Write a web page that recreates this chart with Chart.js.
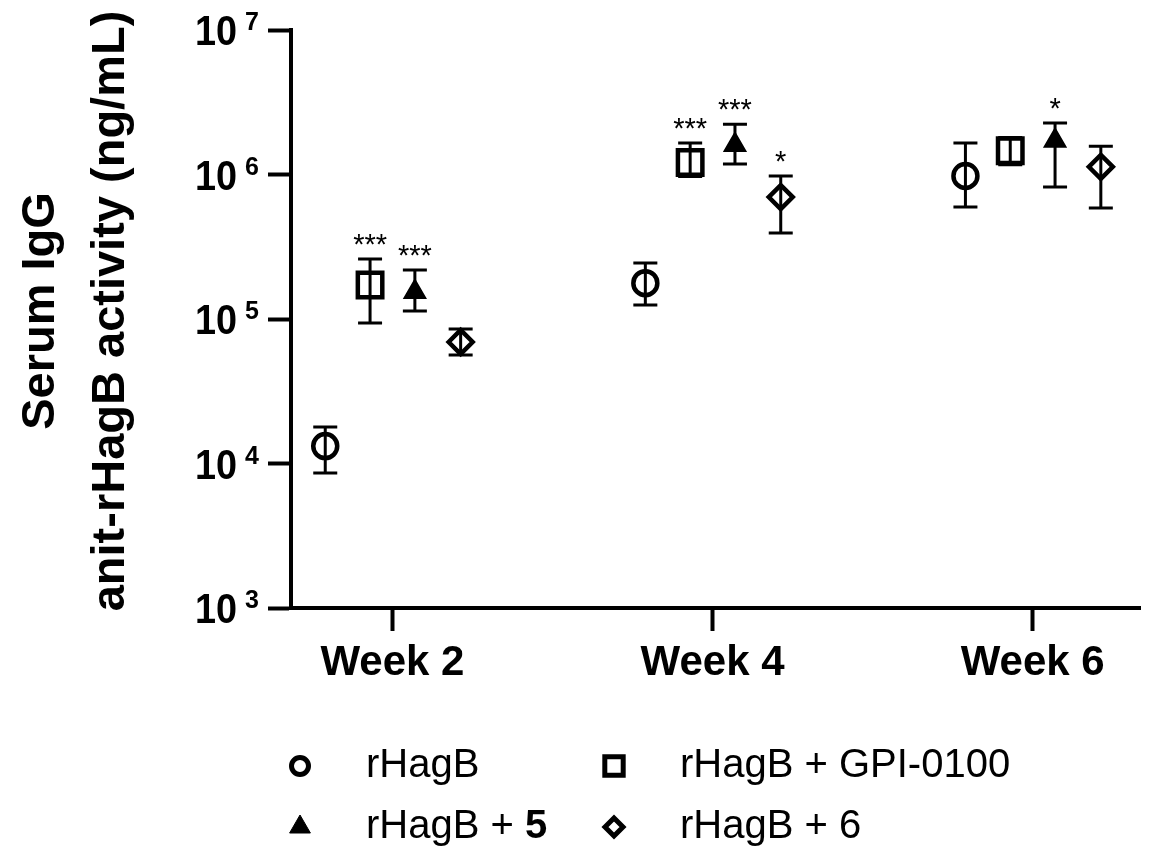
<!DOCTYPE html>
<html><head><meta charset="utf-8">
<script src="https://cdn.jsdelivr.net/npm/chart.js@4/dist/chart.umd.min.js"></script>
<style>html,body{margin:0;padding:0;background:#fff}#wrap{width:1162px;height:850px}</style>
</head><body><div id="wrap"><canvas id="c" width="1162" height="850"></canvas></div>
<script>
// ---- data ----
const categories = ['Week 2', 'Week 4', 'Week 6'];
const seriesLabels = ['rHagB', 'rHagB + GPI-0100', 'rHagB + 5', 'rHagB + 6'];

const meanRHagB  = [13200, 177000, 977000];
const upperRHagB = [17900, 244000, 1650000];
const lowerRHagB = [8600, 125000, 596000];

const meanGPI  = [172000, 1210000, 1460000];
const upperGPI = [260000, 1650000, 1800000];
const lowerGPI = [93800, 970000, 1170000];

const mean5  = [154000, 1600000, 1710000];
const upper5 = [218000, 2230000, 2270000];
const lower5 = [113500, 1180000, 818000];

const mean6  = [69300, 698000, 1130000];
const upper6 = [85300, 977000, 1570000];
const lower6 = [56300, 394000, 586000];

const sigRHagB = ['', '', ''];
const sigGPI   = ['***', '***', ''];
const sig5     = ['***', '***', '*'];
const sig6     = ['', '*', ''];

const yTickValues = [1e3, 1e4, 1e5, 1e6, 1e7];
const yTitleLines = ['Serum IgG', 'anit-rHagB activity (ng/mL)'];

// ---- styles ----
const FONT = '"Liberation Sans", Arial, Helvetica, sans-serif';
const dodge = [-0.21, -0.07, 0.07, 0.213];

function mk(label, mean, up, lo, sig, k, style) {
  return Object.assign({
    label: label,
    data: categories.map((c, i) => ({ x: i + dodge[k], y: mean[i] })),
    errUpper: up, errLower: lo, sig: sig,
    showLine: false,
    pointBorderColor: '#000'
  }, style);
}

const datasets = [
  mk(seriesLabels[0], meanRHagB, upperRHagB, lowerRHagB, sigRHagB, 0,
     { pointStyle: 'circle', pointRadius: 12, pointHoverRadius: 12, pointBorderWidth: 4.5, pointHoverBorderWidth: 4.5, pointBackgroundColor: 'rgba(0,0,0,0)', legendRadius: 8.5, legendBorder: 5 }),
  mk(seriesLabels[1], meanGPI, upperGPI, lowerGPI, sigGPI, 1,
     { pointStyle: 'rect', pointRadius: 17.3, pointHoverRadius: 17.3, pointBorderWidth: 4.5, pointHoverBorderWidth: 4.5, pointBackgroundColor: 'rgba(0,0,0,0)', legendRadius: 13, legendBorder: 5 }),
  mk(seriesLabels[2], mean5, upper5, lower5, sig5, 2,
     { pointStyle: 'triangle', pointRadius: 12, pointHoverRadius: 12, pointBorderWidth: 2, pointHoverBorderWidth: 2, pointBackgroundColor: '#000', legendRadius: 12, legendBorder: 1, boldTail: '5' }),
  mk(seriesLabels[3], mean6, upper6, lower6, sig6, 3,
     { pointStyle: 'rectRot', pointRadius: 12, pointHoverRadius: 12, pointBorderWidth: 4.5, pointHoverBorderWidth: 4.5, pointBackgroundColor: 'rgba(0,0,0,0)', legendRadius: 9, legendBorder: 5 })
];

const errorBars = {
  id: 'errorBars',
  beforeDatasetsDraw(chart) {
    const ctx = chart.ctx, ys = chart.scales.y;
    ctx.save();
    ctx.strokeStyle = '#000';
    ctx.lineWidth = 3;
    chart.data.datasets.forEach((ds, di) => {
      chart.getDatasetMeta(di).data.forEach((pt, i) => {
        const x = pt.x, yu = ys.getPixelForValue(ds.errUpper[i]), yl = ys.getPixelForValue(ds.errLower[i]);
        const w = 12;
        ctx.beginPath();
        ctx.moveTo(x, yu); ctx.lineTo(x, yl);
        ctx.moveTo(x - w, yu); ctx.lineTo(x + w, yu);
        ctx.moveTo(x - w, yl); ctx.lineTo(x + w, yl);
        ctx.stroke();
      });
    });
    ctx.restore();
  },
  afterDatasetsDraw(chart) {
    const ctx = chart.ctx, ys = chart.scales.y;
    ctx.save();
    ctx.fillStyle = '#000';
    ctx.font = '29px ' + FONT;
    ctx.textAlign = 'center';
    ctx.textBaseline = 'alphabetic';
    chart.data.datasets.forEach((ds, di) => {
      chart.getDatasetMeta(di).data.forEach((pt, i) => {
        if (!ds.sig[i]) return;
        const yu = ys.getPixelForValue(ds.errUpper[i]);
        ctx.fillText(ds.sig[i], pt.x, yu - 5);
      });
    });
    ctx.restore();
  }
};

const decor = {
  id: 'decor',
  afterDraw(chart) {
    const ctx = chart.ctx, ys = chart.scales.y;
    ctx.save();
    ctx.fillStyle = '#000';
    // y tick labels 10^n
    yTickValues.forEach(v => {
      const y = ys.getPixelForValue(v);
      const e = Math.round(Math.log10(v));
      ctx.save();
      ctx.translate(237, y + 15);
      ctx.scale(0.9, 1);
      ctx.font = 'bold 42px ' + FONT;
      ctx.textAlign = 'right';
      ctx.textBaseline = 'alphabetic';
      ctx.fillText('10', 0, 0);
      ctx.restore();
      ctx.font = 'bold 25px ' + FONT;
      ctx.textAlign = 'left';
      ctx.textBaseline = 'alphabetic';
      ctx.fillText(String(e), 245, y);
    });
    // y title
    ctx.save();
    ctx.translate(0, 311);
    ctx.rotate(-Math.PI / 2);
    ctx.font = 'bold 47px ' + FONT;
    ctx.textAlign = 'center';
    ctx.textBaseline = 'alphabetic';
    ctx.fillText(yTitleLines[0], 0, 54);
    ctx.fillText(yTitleLines[1], 0, 124);
    ctx.restore();
    // legend
    const pos = [[300, 766], [614, 766], [300, 827], [614, 827]];
    chart.data.datasets.forEach((ds, di) => {
      const [mx, my] = pos[di];
      ctx.save();
      ctx.strokeStyle = '#000';
      ctx.fillStyle = ds.pointBackgroundColor;
      ctx.lineWidth = ds.legendBorder;
      Chart.helpers.drawPoint(ctx, { pointStyle: ds.pointStyle, radius: ds.legendRadius, borderWidth: ds.legendBorder, rotation: 0 }, mx, my);
      ctx.restore();
      ctx.fillStyle = '#000';
      ctx.textAlign = 'left';
      ctx.textBaseline = 'middle';
      let label = ds.label, tail = '';
      if (ds.boldTail && label.endsWith(ds.boldTail)) { tail = ds.boldTail; label = label.slice(0, -tail.length); }
      ctx.font = '40px ' + FONT;
      ctx.fillText(label, mx + 66, my);
      if (tail) {
        const w = ctx.measureText(label).width;
        ctx.font = 'bold 40px ' + FONT;
        ctx.fillText(tail, mx + 66 + w, my);
      }
    });
    ctx.restore();
  }
};

new Chart(document.getElementById('c'), {
  type: 'scatter',
  data: { datasets: datasets },
  options: {
    responsive: false,
    animation: false,
    events: [],
    layout: { padding: { left: 0, right: 0, top: 30, bottom: 0 } },
    plugins: { legend: { display: false }, tooltip: { enabled: false } },
    scales: {
      x: {
        type: 'linear',
        min: -0.317, max: 2.336,
        afterFit(s) { s.height = 242; },
        afterBuildTicks(s) { s.ticks = categories.map((c, i) => ({ value: i })); },
        grid: { display: true, drawOnChartArea: false, drawTicks: true, tickLength: 23, tickWidth: 4, tickColor: '#000' },
        border: { display: true, color: '#000', width: 4 },
        ticks: {
          autoSkip: false, maxRotation: 0, padding: 7, color: '#000',
          font: { family: FONT, size: 42, weight: 'bold' },
          callback: v => categories[v] !== undefined ? categories[v] : ''
        }
      },
      y: {
        type: 'logarithmic',
        min: 1e3, max: 1e7,
        afterFit(s) { s.width = 291; },
        afterBuildTicks(s) { s.ticks = yTickValues.map(v => ({ value: v, major: true })); },
        grid: { display: true, drawOnChartArea: false, drawTicks: true, tickLength: 23, tickWidth: 4, tickColor: '#000' },
        border: { display: true, color: '#000', width: 4 },
        ticks: { display: false }
      }
    }
  },
  plugins: [errorBars, decor]
});
</script>
</body></html>
